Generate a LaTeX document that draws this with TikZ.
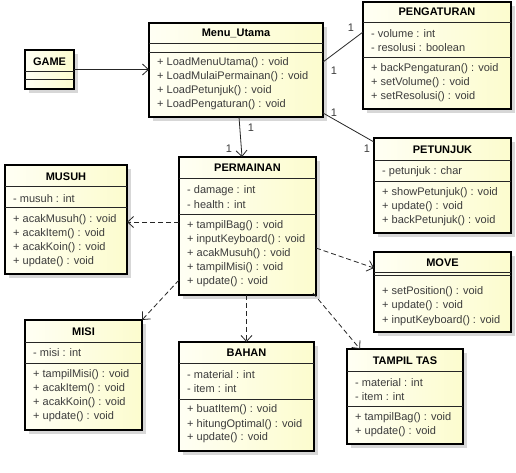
\documentclass[tikz,border=0pt]{standalone}
\usepackage{fontspec}
\setmainfont{Liberation Sans}
\usetikzlibrary{arrows.meta,shadows}
\definecolor{ylight}{RGB}{255,255,244}
\definecolor{ydark}{RGB}{252,252,206}
\definecolor{shadowc}{RGB}{215,215,215}
\definecolor{txt}{RGB}{60,60,60}
\begin{document}
\begin{tikzpicture}[x=1pt,y=-1pt,
  classbox/.style={draw=black, line width=1.8pt, left color=ylight, right color=ydark,
    drop shadow={shadow xshift=4pt, shadow yshift=-4pt, fill=shadowc, opacity=1},
    anchor=north west, inner sep=0, outer sep=0},
  sepline/.style={draw=black!85, line width=0.9pt},
  ctitle/.style={font=\fontsize{11}{12}\selectfont\bfseries, text=black, inner sep=0},
  member/.style={font=\fontsize{11}{12}\selectfont, text=txt, anchor=west, inner sep=0},
  mult/.style={font=\fontsize{11}{12}\selectfont, text=txt, inner sep=0},
  assoc/.style={draw=black!85, line width=0.8pt},
  navarrow/.style={draw=black!85, line width=0.8pt, -{Straight Barb[length=6pt,width=11pt]}},
  deparrow/.style={draw=black!85, line width=0.8pt, dash pattern=on 5pt off 3pt, -{Straight Barb[length=6pt,width=11pt]}}
]
\useasboundingbox[fill=white] (0,0) rectangle (516,472);

% ---------- GAME
\node[classbox, minimum width=49pt, minimum height=39pt] (game) at (25,50) {};
\node[ctitle] (game-t) at (49.5,62) {GAME};
\draw[sepline] (25,71) -- (74,71);
\draw[sepline] (25,79) -- (74,79);

% ---------- Menu_Utama
\node[classbox, minimum width=174pt, minimum height=94pt] (menu) at (149,23) {};
\node[ctitle] (menu-t) at (236,33) {Menu\_Utama};
\draw[sepline] (149,43) -- (323,43);
\draw[sepline] (149,52) -- (323,52);
\node[member] (menu-m1) at (157,63) {+ LoadMenuUtama() : void};
\node[member] (menu-m2) at (157,77) {+ LoadMulaiPermainan() : void};
\node[member] (menu-m3) at (157,91) {+ LoadPetunjuk() : void};
\node[member] (menu-m4) at (157,105) {+ LoadPengaturan() : void};

% ---------- PENGATURAN
\node[classbox, minimum width=148pt, minimum height=107pt] (peng) at (363,2) {};
\node[ctitle] (peng-t) at (437,12) {PENGATURAN};
\draw[sepline] (363,22) -- (511,22);
\node[member] (peng-a1) at (371,34) {- volume : int};
\node[member] (peng-a2) at (371,48) {- resolusi : boolean};
\draw[sepline] (363,57) -- (511,57);
\node[member] (peng-m1) at (371,69) {+ backPengaturan() : void};
\node[member] (peng-m2) at (371,83) {+ setVolume() : void};
\node[member] (peng-m3) at (371,97) {+ setResolusi() : void};

% ---------- PETUNJUK
\node[classbox, minimum width=137pt, minimum height=95pt] (petu) at (374,138) {};
\node[ctitle] (petu-t) at (442.5,150) {PETUNJUK};
\draw[sepline] (374,160) -- (511,160);
\node[member] (petu-a1) at (382,172) {- petunjuk : char};
\draw[sepline] (374,181) -- (511,181);
\node[member] (petu-m1) at (382,193) {+ showPetunjuk() : void};
\node[member] (petu-m2) at (382,207) {+ update() : void};
\node[member] (petu-m3) at (382,221) {+ backPetunjuk() : void};

% ---------- MOVE
\node[classbox, minimum width=137pt, minimum height=80pt] (move) at (374,252) {};
\node[ctitle] (move-t) at (442.5,263) {MOVE};
\draw[sepline] (374,272) -- (511,272);
\draw[sepline] (374,275) -- (511,275);
\node[member] (move-m1) at (382,292) {+ setPosition() : void};
\node[member] (move-m2) at (382,306) {+ update() : void};
\node[member] (move-m3) at (382,321) {+ inputKeyboard() : void};

% ---------- PERMAINAN
\node[classbox, minimum width=137pt, minimum height=138pt] (perm) at (179,157) {};
\node[ctitle] (perm-t) at (247.5,168) {PERMAINAN};
\draw[sepline] (179,178) -- (316,178);
\node[member] (perm-a1) at (187,191) {- damage : int};
\node[member] (perm-a2) at (187,205) {- health : int};
\draw[sepline] (179,214) -- (316,214);
\node[member] (perm-m1) at (187,226) {+ tampilBag() : void};
\node[member] (perm-m2) at (187,240) {+ inputKeyboard() : void};
\node[member] (perm-m3) at (187,254) {+ acakMusuh() : void};
\node[member] (perm-m4) at (187,268) {+ tampilMisi() : void};
\node[member] (perm-m5) at (187,282) {+ update() : void};

% ---------- MUSUH
\node[classbox, minimum width=122pt, minimum height=109pt] (musuh) at (5,165) {};
\node[ctitle] (musuh-t) at (66,177) {MUSUH};
\draw[sepline] (5,186) -- (127,186);
\node[member] (musuh-a1) at (13,199) {- musuh : int};
\draw[sepline] (5,207) -- (127,207);
\node[member] (musuh-m1) at (13,220) {+ acakMusuh() : void};
\node[member] (musuh-m2) at (13,234) {+ acakItem() : void};
\node[member] (musuh-m3) at (13,248) {+ acakKoin() : void};
\node[member] (musuh-m4) at (13,262) {+ update() : void};

% ---------- MISI
\node[classbox, minimum width=117pt, minimum height=110pt] (misi) at (25,320) {};
\node[ctitle] (misi-t) at (83.5,332) {MISI};
\draw[sepline] (25,342) -- (142,342);
\node[member] (misi-a1) at (33,353) {- misi : int};
\draw[sepline] (25,363) -- (142,363);
\node[member] (misi-m1) at (33,375) {+ tampilMisi() : void};
\node[member] (misi-m2) at (33,389) {+ acakItem() : void};
\node[member] (misi-m3) at (33,403) {+ acakKoin() : void};
\node[member] (misi-m4) at (33,417) {+ update() : void};

% ---------- BAHAN
\node[classbox, minimum width=135pt, minimum height=109pt] (bahan) at (179,342) {};
\node[ctitle] (bahan-t) at (246.5,353) {BAHAN};
\draw[sepline] (179,363) -- (314,363);
\node[member] (bahan-a1) at (187,375) {- material : int};
\node[member] (bahan-a2) at (187,389) {- item : int};
\draw[sepline] (179,399) -- (314,399);
\node[member] (bahan-m1) at (187,410) {+ buatItem() : void};
\node[member] (bahan-m2) at (187,425) {+ hitungOptimal() : void};
\node[member] (bahan-m3) at (187,438) {+ update() : void};

% ---------- TAMPIL TAS
\node[classbox, minimum width=116pt, minimum height=95pt] (tas) at (347,349) {};
\node[ctitle] (tas-t) at (405,361) {TAMPIL TAS};
\draw[sepline] (347,371) -- (463,371);
\node[member] (tas-a1) at (355,383) {- material : int};
\node[member] (tas-a2) at (355,397) {- item : int};
\draw[sepline] (347,406) -- (463,406);
\node[member] (tas-m1) at (355,418) {+ tampilBag() : void};
\node[member] (tas-m2) at (355,432) {+ update() : void};

% ---------- connectors
\draw[navarrow] (game.east) -- (game.east -| menu.west);
\draw[assoc] ([yshift=8pt]menu.east) -- ([yshift=23.5pt]peng.west);
\draw[assoc] ([yshift=4pt]menu.south east) -- ([yshift=-4pt]petu.north west);
\draw[navarrow] ([xshift=3pt]menu.south) -- ([xshift=-5.5pt]perm.north);

\draw[deparrow] ([yshift=4pt]perm.west) -- ([yshift=4pt]perm.west -| musuh.east);
\draw[deparrow] ([yshift=-54pt]perm.west) -- (misi.north east);
\draw[deparrow] (perm.south -| bahan.north) -- (bahan.north);
\draw[deparrow] ([xshift=-3pt,yshift=2pt]perm.south east) -- ([xshift=13pt]tas.north west);
\draw[deparrow] ([yshift=-22pt]perm.east) -- ([yshift=24pt]move.west);

% ---------- multiplicities
\node[mult] (l1) at (351,28) {1};
\node[mult] (l2) at (334,71) {1};
\node[mult] (l3) at (334,113) {1};
\node[mult] (l4) at (367,149) {1};
\node[mult] (l5) at (251,128) {1};
\node[mult] (l6) at (229,149) {1};
\end{tikzpicture}
\end{document}
